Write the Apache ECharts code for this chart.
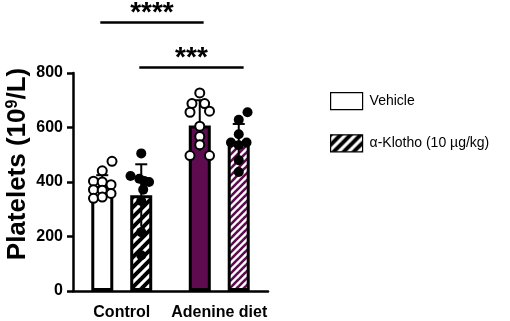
<!DOCTYPE html>
<html>
<head>
<meta charset="utf-8">
<script src="https://cdn.jsdelivr.net/npm/echarts@6/dist/echarts.min.js"></script>
<style>
  html, body { margin: 0; padding: 0; background: #fff; }
  #chart { width: 510px; height: 321px; }
</style>
</head>
<body>
<div id="chart"></div>
<script>
// groups and series
const groups = ['Control', 'Adenine diet'];
const seriesNames = ['Vehicle', 'α-Klotho (10 µg/kg)'];

// bar heights (mean) and SD
const vehicleMean = [385, 607];
const vehicleSD = [40, 93];
const klothoMean = [351, 550];
const klothoSD = [114, 63];

// individual animals, [jitter in category units, value]
const ctrlVehicle = [[0.1, 476], [0, 441], [-0.09, 403], [0, 400], [0.09, 390], [-0.09, 372], [0, 370], [0.09, 358], [-0.09, 340], [0, 345]];
const ctrlKlotho = [[0, 505], [-0.11, 422], [-0.02, 412], [0.08, 400], [0.03, 404], [0.02, 372], [0, 330], [0, 216], [0, 131]];
const adenVehicle = [[0, 727], [-0.08, 688], [0.05, 688], [0.1, 660], [-0.1, 656], [0, 605], [0, 567], [0, 537], [-0.1, 497], [0.1, 497]];
const adenKlotho = [[0.09, 656], [0, 628], [-0.08, 545], [0, 575], [0.08, 545], [0, 535], [0, 480], [0, 437]];

// significance brackets: [from x, to x, height, stars]
const brackets = [[-0.22, 0.84, 985, '****'], [0.18, 1.25, 820, '***']];

const purple = '#5e0b50';
const barShift = 0.2; // bar centre offset from the group centre, category units

function stripes(color, size, width) {
  let c = document.createElement('canvas');
  c.width = size; c.height = size;
  let ctx = c.getContext('2d');
  ctx.fillStyle = '#fff';
  ctx.fillRect(0, 0, size, size);
  ctx.strokeStyle = color;
  ctx.lineWidth = width;
  [[-size, size, size, -size], [0, size * 2, size * 2, 0], [-size, size * 2, size, 0]].forEach(l => {
    ctx.beginPath();
    ctx.moveTo(l[0], l[1]);
    ctx.lineTo(l[2], l[3]);
    ctx.stroke();
  });
  return { image: c, repeat: 'repeat' };
}
const hatchBlack = stripes('#000', 10, 4);
const hatchPurple = stripes(purple, 7, 2.6);

function points(list, idx, shift) {
  return list.map(p => [idx + shift + p[0], p[1]]);
}

const font = 'Liberation Sans, Arial, sans-serif';

let option = {
  animation: false,
  backgroundColor: '#fff',
  grid: { left: 73, right: 242, top: 73, bottom: 28 },
  legend: {
    orient: 'vertical',
    left: 325,
    top: 87,
    itemWidth: 32,
    itemHeight: 17,
    itemGap: 24,
    icon: 'rect',
    data: seriesNames,
    itemStyle: { borderWidth: 1.2, borderColor: '#000' },
    textStyle: { fontFamily: font, fontSize: 14, color: '#000', padding: [0, 0, 0, 2] }
  },
  xAxis: [
    {
      type: 'category',
      data: groups,
      axisLine: { lineStyle: { color: '#000', width: 2.5 } },
      axisTick: { alignWithLabel: true, length: 6, lineStyle: { width: 2.5, color: '#000' } },
      axisLabel: { interval: 0, fontFamily: font, fontWeight: 'bold', fontSize: 16, color: '#000', margin: 14 }
    },
    { type: 'value', min: -0.5, max: 1.5, show: false }
  ],
  yAxis: {
    type: 'value',
    min: 0, max: 800, interval: 200,
    name: '{a|Platelets (10}{s|9}{a|/L)}',
    nameLocation: 'middle',
    nameGap: 42,
    nameTextStyle: {
      padding: [0, 0, 0, 36],
      rich: {
        a: { fontFamily: font, fontWeight: 'bold', fontSize: 26, color: '#000' },
        s: { fontFamily: font, fontWeight: 'bold', fontSize: 16, color: '#000', verticalAlign: 'top', padding: [0, 0, 10, 0] }
      }
    },
    axisLine: { show: true, onZero: false, lineStyle: { color: '#000', width: 2.5 } },
    axisTick: { show: true, length: 6, lineStyle: { width: 2.5, color: '#000' } },
    axisLabel: { fontFamily: font, fontWeight: 'bold', fontSize: 16, color: '#000', margin: 10 },
    splitLine: { show: false }
  },
  series: [
    {
      name: seriesNames[0],
      type: 'bar',
      barWidth: 22,
      barGap: '77%',
      itemStyle: { color: '#fff', borderColor: '#000', borderWidth: 3 },
      data: [
        { value: vehicleMean[0], itemStyle: { color: '#fff' } },
        { value: vehicleMean[1], itemStyle: { color: purple } }
      ],
      z: 2
    },
    {
      name: seriesNames[1],
      type: 'bar',
      barWidth: 22,
      itemStyle: { color: hatchBlack, borderColor: '#000', borderWidth: 3 },
      data: [
        { value: klothoMean[0], itemStyle: { color: hatchBlack } },
        { value: klothoMean[1], itemStyle: { color: hatchPurple } }
      ],
      z: 2
    },
    {
      type: 'custom',
      xAxisIndex: 1,
      z: 3,
      data: [
        [-barShift, vehicleMean[0], vehicleSD[0]],
        [barShift, klothoMean[0], klothoSD[0]],
        [1 - barShift, vehicleMean[1], vehicleSD[1]],
        [1 + barShift, klothoMean[1], klothoSD[1]]
      ],
      renderItem: function (params, api) {
        let x = api.value(0), m = api.value(1), sd = api.value(2);
        let top = api.coord([x, m + sd]);
        let bot = api.coord([x, m - sd]);
        let st = { stroke: '#000', lineWidth: 2 };
        return {
          type: 'group',
          children: [
            { type: 'line', shape: { x1: top[0], y1: top[1], x2: bot[0], y2: bot[1] }, style: st },
            { type: 'line', shape: { x1: top[0] - 6, y1: top[1], x2: top[0] + 6, y2: top[1] }, style: st }
          ]
        };
      }
    },
    {
      type: 'scatter',
      xAxisIndex: 1,
      symbolSize: 9,
      itemStyle: { color: '#fff', borderColor: '#000', borderWidth: 2, opacity: 1 },
      data: points(ctrlVehicle, 0, -barShift).concat(points(adenVehicle, 1, -barShift)),
      z: 4
    },
    {
      type: 'scatter',
      xAxisIndex: 1,
      symbolSize: 10,
      itemStyle: { color: '#000', opacity: 1 },
      data: points(ctrlKlotho, 0, barShift).concat(points(adenKlotho, 1, barShift)),
      z: 4
    },
    {
      type: 'custom',
      xAxisIndex: 1,
      clip: false,
      z: 5,
      data: brackets,
      renderItem: function (params, api) {
        let a = api.coord([api.value(0), api.value(2)]);
        let b = api.coord([api.value(1), api.value(2)]);
        return {
          type: 'group',
          children: [
            { type: 'line', shape: { x1: a[0], y1: a[1], x2: b[0], y2: a[1] }, style: { stroke: '#000', lineWidth: 2.5 } },
            {
              type: 'text',
              x: (a[0] + b[0]) / 2, y: a[1] - 9,
              style: {
                text: brackets[params.dataIndex][3],
                fontFamily: font, fontWeight: 'bold', fontSize: 28,
                fill: '#000', align: 'center', verticalAlign: 'middle'
              }
            }
          ]
        };
      }
    }
  ]
};

let myChart = echarts.init(document.getElementById('chart'));
myChart.setOption(option);
</script>
</body>
</html>
